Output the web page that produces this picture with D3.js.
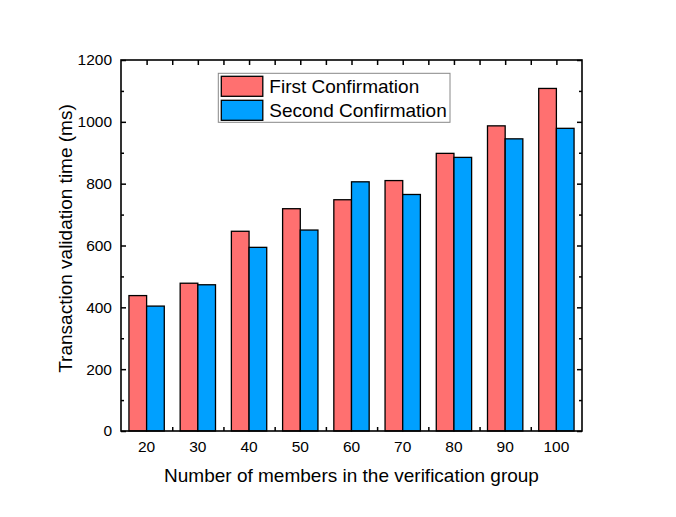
<!DOCTYPE html>
<html>
<head>
<meta charset="utf-8">
<script src="https://cdn.jsdelivr.net/npm/d3@7"></script>
<style>
    body { margin: 0; background: #fff; }
    text { font-family: "Liberation Sans", Arial, sans-serif; fill: #000; }
</style>
</head>
<body>
<div id="chart"></div>
<script>
const groups = ["20", "30", "40", "50", "60", "70", "80", "90", "100"]
const firstConfirmation = [438, 478, 646, 719, 748, 810, 898, 987, 1108]
const secondConfirmation = [404, 473, 594, 650, 806, 765, 885, 945, 979]
const seriesNames = ["First Confirmation", "Second Confirmation"]
const seriesColors = ["#FF7070", "#00A0FF"]
const yTicks = [0, 200, 400, 600, 800, 1000, 1200]

const dimensions = {
    width: 676,
    height: 517,
    margin: { top: 60, right: 94, bottom: 86, left: 121 },
}
dimensions.boundedWidth = dimensions.width - dimensions.margin.left - dimensions.margin.right
dimensions.boundedHeight = dimensions.height - dimensions.margin.top - dimensions.margin.bottom

const svg = d3.select("#chart").append("svg")
    .attr("width", dimensions.width)
    .attr("height", dimensions.height)

const bounds = svg.append("g")
    .attr("transform", `translate(${dimensions.margin.left},${dimensions.margin.top})`)

const xScale = d3.scaleBand()
    .domain(groups)
    .range([0, dimensions.boundedWidth])

const innerScale = d3.scaleBand()
    .domain(seriesNames)
    .range([0, xScale.bandwidth() * 0.69])

const yScale = d3.scaleLinear()
    .domain([0, 1200])
    .range([dimensions.boundedHeight, 0])

// bars
const rows = groups.map((g, i) => ({
    group: g,
    values: [firstConfirmation[i], secondConfirmation[i]]
}))

const groupOffset = (xScale.bandwidth() - innerScale.range()[1]) / 2
bounds.selectAll(".grp")
    .data(rows)
    .join("g")
    .attr("class", "grp")
    .attr("transform", d => `translate(${xScale(d.group) + groupOffset},0)`)
    .selectAll("rect")
    .data(d => d.values.map((v, k) => ({ name: seriesNames[k], value: v, color: seriesColors[k] })))
    .join("rect")
    .attr("x", d => innerScale(d.name))
    .attr("width", innerScale.bandwidth())
    .attr("y", d => yScale(d.value))
    .attr("height", d => dimensions.boundedHeight - yScale(d.value))
    .attr("fill", d => d.color)
    .attr("stroke", "#000")
    .attr("stroke-width", 1.3)

// axes
const minorY = d3.range(100, 1200, 200)
const centers = groups.map(g => xScale(g) + xScale.bandwidth() / 2)
const edges = groups.slice(1).map(g => xScale(g))

function styleAxis(sel) {
    sel.select(".domain").remove()
    sel.selectAll("line").attr("stroke", "#000").attr("stroke-width", 1.5)
    sel.selectAll("text").style("font-size", "15.5px")
        .style("font-family", '"Liberation Sans", Arial, sans-serif')
}

const yAxis = bounds.append("g")
    .call(d3.axisLeft(yScale).tickValues(yTicks).tickFormat(d3.format("d")).tickSize(-5).tickPadding(9))
yAxis.call(styleAxis)
bounds.append("g")
    .call(d3.axisLeft(yScale).tickValues(minorY).tickSize(-3).tickFormat(""))
    .call(styleAxis)

bounds.append("g")
    .attr("transform", `translate(${dimensions.boundedWidth},0)`)
    .call(d3.axisRight(yScale).tickValues(yTicks).tickSize(-5).tickFormat(""))
    .call(styleAxis)
bounds.append("g")
    .attr("transform", `translate(${dimensions.boundedWidth},0)`)
    .call(d3.axisRight(yScale).tickValues(minorY).tickSize(-3).tickFormat(""))
    .call(styleAxis)

const xAxis = bounds.append("g")
    .attr("transform", `translate(0,${dimensions.boundedHeight})`)
    .call(d3.axisBottom(xScale).tickSize(0).tickPadding(10))
xAxis.call(styleAxis)

const posScale = d3.scaleLinear().domain([0, dimensions.boundedWidth]).range([0, dimensions.boundedWidth])
bounds.append("g")
    .attr("transform", `translate(0,${dimensions.boundedHeight})`)
    .call(d3.axisBottom(posScale).tickValues(edges).tickSize(-4).tickFormat(""))
    .call(styleAxis)
bounds.append("g")
    .call(d3.axisTop(posScale).tickValues(centers.concat(edges)).tickSize(-5).tickFormat(""))
    .call(styleAxis)

// frame
bounds.append("rect")
    .attr("width", dimensions.boundedWidth)
    .attr("height", dimensions.boundedHeight)
    .attr("fill", "none")
    .attr("stroke", "#000")
    .attr("stroke-width", 1.6)

// axis titles
bounds.append("text")
    .attr("x", dimensions.boundedWidth / 2)
    .attr("y", dimensions.boundedHeight + 51)
    .attr("text-anchor", "middle")
    .style("font-size", "19px")
    .text("Number of members in the verification group")

bounds.append("text")
    .attr("transform", `translate(${-49},${dimensions.boundedHeight / 2 - 7}) rotate(-90)`)
    .attr("text-anchor", "middle")
    .style("font-size", "19px")
    .text("Transaction validation time (ms)")

// legend
const legend = bounds.append("g")
    .attr("transform", `translate(${218.3 - dimensions.margin.left},${73.3 - dimensions.margin.top})`)
legend.append("rect")
    .attr("width", 231.7)
    .attr("height", 49)
    .attr("fill", "#fff")
    .attr("stroke", "#888")
    .attr("stroke-width", 1)

const legendItems = legend.selectAll(".item")
    .data(seriesNames)
    .join("g")
    .attr("class", "item")
    .attr("transform", (d, i) => `translate(3,${3 + i * 24})`)
legendItems.append("rect")
    .attr("width", 41.5)
    .attr("height", 20)
    .attr("fill", (d, i) => seriesColors[i])
    .attr("stroke", "#000")
    .attr("stroke-width", 1.3)
legendItems.append("text")
    .attr("x", 48)
    .attr("y", 17)
    .style("font-size", "19px")
    .text(d => d)
</script>
</body>
</html>
